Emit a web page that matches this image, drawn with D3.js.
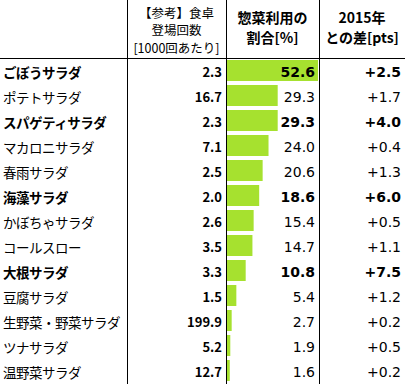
<!DOCTYPE html>
<html>
<head>
<meta charset="utf-8">
<script src="https://cdn.jsdelivr.net/npm/d3@7"></script>
<style>
body { margin: 0; background: #fff; }
text { font-family: "Noto Sans CJK JP", "DejaVu Sans", sans-serif; fill: #000; }
</style>
</head>
<body>
<div id="chart"></div>
<script>
// data
var items = ['ごぼうサラダ', 'ポテトサラダ', 'スパゲティサラダ', 'マカロニサラダ', '春雨サラダ', '海藻サラダ',
    'かぼちゃサラダ', 'コールスロー', '大根サラダ', '豆腐サラダ', '生野菜・野菜サラダ', 'ツナサラダ', '温野菜サラダ'];
var tableCount = [2.3, 16.7, 2.3, 7.1, 2.5, 2.0, 2.6, 3.5, 3.3, 1.5, 199.9, 5.2, 12.7];
var share = [52.6, 29.3, 29.3, 24.0, 20.6, 18.6, 15.4, 14.7, 10.8, 5.4, 2.7, 1.9, 1.6];
var diff2015 = [2.5, 1.7, 4.0, 0.4, 1.3, 6.0, 0.5, 1.1, 7.5, 1.2, 0.2, 0.5, 0.2];
var highlight = ['ごぼうサラダ', 'スパゲティサラダ', '海藻サラダ', '大根サラダ'];
var head2 = ['【参考】食卓', '登場回数', '[1000回あたり]'];
var head3 = ['惣菜利用の', '割合[%]'];
var head4 = ['2015年', 'との差[pts]'];

var width = 405, height = 384;
var headH = 58;
var col1 = 127, col2 = 226, col3 = 319;
var numFont = '"DejaVu Sans", sans-serif';

var svg = d3.select('#chart').append('svg')
    .attr('width', width)
    .attr('height', height);

var y = d3.scaleBand()
    .domain(items)
    .range([headH, headH + 25 * items.length])
    .paddingInner(0.16)
    .paddingOuter(0.08);

var x = d3.scaleLinear()
    .domain([0, d3.max(share)])
    .range([col2 + 1, col3 - 1]);

// grid lines
svg.append('line')
    .attr('x1', 0).attr('x2', width)
    .attr('y1', headH + 0.5).attr('y2', headH + 0.5)
    .attr('stroke', '#000');
[col1, col2, col3].forEach(function(cx) {
    svg.append('line')
        .attr('x1', cx + 0.5).attr('x2', cx + 0.5)
        .attr('y1', 0).attr('y2', height)
        .attr('stroke', '#000');
});

// headers
function header(lines, cx, ys, bold, size) {
    svg.append('g').selectAll('text')
        .data(lines)
        .enter().append('text')
        .attr('x', cx)
        .attr('y', function(d, i) { return ys[i]; })
        .attr('text-anchor', 'middle')
        .attr('dominant-baseline', 'central')
        .style('font-size', size)
        .style('font-weight', bold ? 'bold' : 'normal')
        .text(function(d) { return d; });
}
header(head2, (col1 + col2) / 2, [12, 29.5, 47], false, '12.5px');
header(head3, (col2 + col3) / 2, [17, 37], true, '14px');
header(head4, (col3 + width) / 2, [17, 37], true, '14px');

// bars
svg.append('g').selectAll('rect')
    .data(items)
    .enter().append('rect')
    .attr('x', x(0))
    .attr('y', function(d) { return y(d); })
    .attr('width', function(d, i) { return x(share[i]) - x(0); })
    .attr('height', y.bandwidth())
    .attr('fill', '#a6e12f');

function isBold(d) { return highlight.indexOf(d) >= 0; }

var rows = svg.append('g').selectAll('g')
    .data(items)
    .enter().append('g')
    .attr('transform', function(d) { return 'translate(0,' + (y(d) + y.bandwidth() / 2 + 1) + ')'; })
    .style('font-weight', function(d) { return isBold(d) ? 'bold' : 'normal'; });

rows.append('text')
    .attr('x', 3)
    .attr('dominant-baseline', 'central')
    .style('font-size', '13.5px')
    .style('letter-spacing', '-0.5px')
    .text(function(d) { return d; });

rows.append('text')
    .attr('x', col2 - 4)
    .attr('text-anchor', 'end')
    .attr('dominant-baseline', 'central')
    .style('font-weight', 'bold')
    .style('font-size', '13px')
    .text(function(d, i) { return tableCount[i].toFixed(1); });

rows.append('text')
    .attr('x', col3 - 4)
    .attr('text-anchor', 'end')
    .attr('dominant-baseline', 'central')
    .style('font-family', numFont)
    .style('font-size', '14px')
    .text(function(d, i) { return share[i].toFixed(1); });

rows.append('text')
    .attr('x', width - 4)
    .attr('text-anchor', 'end')
    .attr('dominant-baseline', 'central')
    .style('font-family', numFont)
    .style('font-size', '14px')
    .text(function(d, i) { return '+' + diff2015[i].toFixed(1); });
</script>
</body>
</html>
